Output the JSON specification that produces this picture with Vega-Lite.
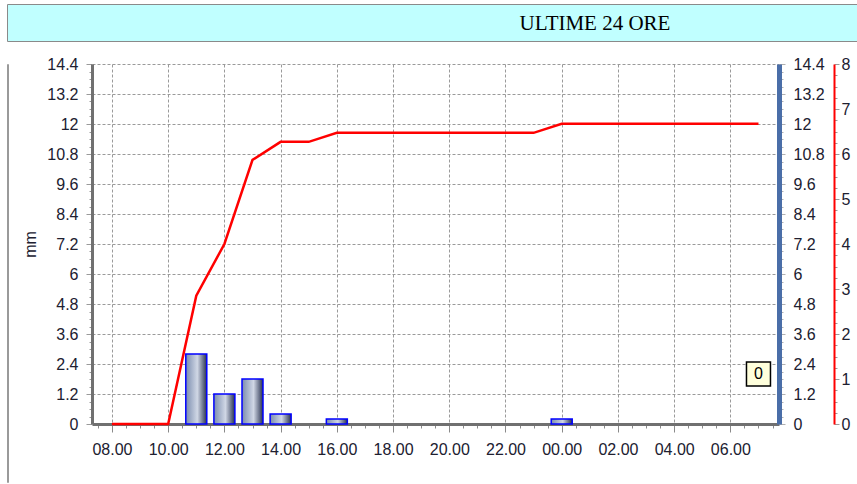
{
  "$schema": "https://vega.github.io/schema/vega-lite/v6.json",
  "padding": {"left": 6, "top": 3, "right": 0, "bottom": 0},
  "background": "white",
  "spacing": 14,
  "config": {
    "font": "Liberation Sans",
    "view": {"stroke": null},
    "axis": {
      "labelFont": "Liberation Sans",
      "labelFontSize": 16,
      "labelColor": "#202030",
      "titleFont": "Liberation Sans",
      "titleFontWeight": "normal",
      "titleColor": "#202030",
      "gridColor": "#9a9a9a",
      "gridDash": [3, 2],
      "gridWidth": 1
    }
  },
  "datasets": {
    "rain": [
      {"hour": 8, "mm": 0, "cum": 0},
      {"hour": 9, "mm": 0, "cum": 0},
      {"hour": 10, "mm": 0, "cum": 0},
      {"hour": 11, "mm": 2.8, "cum": 2.85},
      {"hour": 12, "mm": 1.2, "cum": 4.0},
      {"hour": 13, "mm": 1.8, "cum": 5.87},
      {"hour": 14, "mm": 0.4, "cum": 6.27},
      {"hour": 15, "mm": 0, "cum": 6.27},
      {"hour": 16, "mm": 0.2, "cum": 6.47},
      {"hour": 17, "mm": 0, "cum": 6.47},
      {"hour": 18, "mm": 0, "cum": 6.47},
      {"hour": 19, "mm": 0, "cum": 6.47},
      {"hour": 20, "mm": 0, "cum": 6.47},
      {"hour": 21, "mm": 0, "cum": 6.47},
      {"hour": 22, "mm": 0, "cum": 6.47},
      {"hour": 23, "mm": 0, "cum": 6.47},
      {"hour": 24, "mm": 0.2, "cum": 6.67},
      {"hour": 25, "mm": 0, "cum": 6.67},
      {"hour": 26, "mm": 0, "cum": 6.67},
      {"hour": 27, "mm": 0, "cum": 6.67},
      {"hour": 28, "mm": 0, "cum": 6.67},
      {"hour": 29, "mm": 0, "cum": 6.67},
      {"hour": 30, "mm": 0, "cum": 6.67},
      {"hour": 31, "mm": 0, "cum": 6.67}
    ],
    "box": [{"hour": 31, "v": 2.0, "label": "0"}],
    "band": [{"t": "ULTIME 24 ORE"}],
    "empty": []
  },
  "vconcat": [
    {
      "width": 852,
      "height": 37,
      "view": {"fill": "#c0ffff", "stroke": "#8a8a8a", "strokeWidth": 1},
      "data": {"name": "band"},
      "mark": {"type": "text", "font": "Liberation Serif", "fontSize": 21, "color": "#000000", "dx": 162, "dy": 1.5},
      "encoding": {"text": {"field": "t", "type": "nominal"}}
    },
    {
      "spacing": 13,
      "hconcat": [
        {
          "width": 1,
          "height": 418,
          "view": {"stroke": "#9a9a9a", "strokeWidth": 1},
          "data": {"name": "empty"},
          "mark": {"type": "text"},
          "encoding": {"text": {"field": "t", "type": "nominal"}}
        },
        {
          "width": 687,
          "height": 360,
          "resolve": {"scale": {"y": "independent"}},
          "encoding": {
            "x": {
              "field": "hour", "type": "quantitative",
              "scale": {"domain": [7.29, 31.73], "nice": false, "zero": false, "padding": 0},
              "axis": {
                "title": null,
                "values": [7.5, 8, 8.5, 9, 9.5, 10, 10.5, 11, 11.5, 12, 12.5, 13, 13.5, 14, 14.5, 15, 15.5, 16, 16.5, 17, 17.5, 18, 18.5, 19, 19.5, 20, 20.5, 21, 21.5, 22, 22.5, 23, 23.5, 24, 24.5, 25, 25.5, 26, 26.5, 27, 27.5, 28, 28.5, 29, 29.5, 30, 30.5, 31, 31.5],
                "labelExpr": "datum.value % 2 == 0 ? (((datum.value % 24) < 10 ? '0' : '') + (datum.value % 24) + '.00') : ''",
                "grid": true,
                "gridOpacity": {"condition": {"test": "datum.value % 2 == 0", "value": 1}, "value": 0},
                "tickSize": {"condition": {"test": "datum.value % 2 == 0", "value": 8}, "value": 4},
                "tickColor": "#8a8a8a",
                "domainColor": "#707070",
                "domainWidth": 3,
                "labelPadding": 9,
                "labelFlush": false,
                "labelOverlap": false
              }
            }
          },
          "layer": [
            {
              "data": {"name": "rain"},
              "transform": [{"filter": "datum.mm > 0"}],
              "mark": {
                "type": "bar",
                "size": 21,
                "fill": {
                  "gradient": "linear", "x1": 0, "y1": 0, "x2": 1, "y2": 0,
                  "stops": [
                    {"offset": 0, "color": "#7a8cae"},
                    {"offset": 0.55, "color": "#d0d7e5"},
                    {"offset": 1, "color": "#27314f"}
                  ]
                },
                "stroke": "#0000ff",
                "strokeWidth": 1.5
              },
              "encoding": {
                "y": {
                  "field": "mm", "type": "quantitative",
                  "scale": {"domain": [0, 14.4], "nice": false},
                  "axis": {
                    "title": "mm",
                    "titleFontSize": 16,
                    "titlePadding": 8,
                    "orient": "left",
                    "values": [0, 0.3, 0.6, 0.9, 1.2, 1.5, 1.8, 2.1, 2.4, 2.7, 3, 3.3, 3.6, 3.9, 4.2, 4.5, 4.8, 5.1, 5.4, 5.7, 6, 6.3, 6.6, 6.9, 7.2, 7.5, 7.8, 8.1, 8.4, 8.7, 9, 9.3, 9.6, 9.9, 10.2, 10.5, 10.8, 11.1, 11.4, 11.7, 12, 12.3, 12.6, 12.9, 13.2, 13.5, 13.8, 14.1, 14.4],
                    "labelExpr": "abs(datum.value/1.2 - round(datum.value/1.2)) < 0.01 ? format(datum.value, '~g') : ''",
                    "grid": true,
                    "gridOpacity": {"condition": {"test": "abs(datum.value/1.2 - round(datum.value/1.2)) < 0.01", "value": 1}, "value": 0},
                    "tickSize": {"condition": {"test": "abs(datum.value/1.2 - round(datum.value/1.2)) < 0.01", "value": 6}, "value": 3},
                    "tickColor": "#9a9a9a",
                    "domainColor": "#707070",
                    "domainWidth": 3,
                    "labelPadding": 8,
                    "labelOverlap": false,
                    "labelFlush": false
                  }
                }
              }
            },
            {
              "data": {"name": "rain"},
              "mark": {"type": "line", "color": "#ff0000", "strokeWidth": 2.5},
              "encoding": {
                "y": {
                  "field": "cum", "type": "quantitative",
                  "scale": {"domain": [0, 8], "nice": false},
                  "axis": {
                    "title": null,
                    "orient": "right",
                    "offset": 55,
                    "values": [0, 0.25, 0.5, 0.75, 1, 1.25, 1.5, 1.75, 2, 2.25, 2.5, 2.75, 3, 3.25, 3.5, 3.75, 4, 4.25, 4.5, 4.75, 5, 5.25, 5.5, 5.75, 6, 6.25, 6.5, 6.75, 7, 7.25, 7.5, 7.75, 8],
                    "labelExpr": "datum.value % 1 == 0 ? format(datum.value, 'd') : ''",
                    "grid": false,
                    "tickSize": {"condition": {"test": "datum.value % 1 == 0", "value": 5}, "value": 3},
                    "tickColor": "#9a9a9a",
                    "domainColor": "#ff0000",
                    "domainWidth": 2,
                    "labelPadding": 2,
                    "labelOverlap": false,
                    "labelFlush": false
                  }
                }
              }
            },
            {
              "data": {"name": "box"},
              "encoding": {
                "y": {
                  "field": "v", "type": "quantitative",
                  "scale": {"domain": [0, 14.4], "nice": false},
                  "axis": {
                    "title": null,
                    "orient": "right",
                    "offset": 0,
                    "values": [0, 0.3, 0.6, 0.9, 1.2, 1.5, 1.8, 2.1, 2.4, 2.7, 3, 3.3, 3.6, 3.9, 4.2, 4.5, 4.8, 5.1, 5.4, 5.7, 6, 6.3, 6.6, 6.9, 7.2, 7.5, 7.8, 8.1, 8.4, 8.7, 9, 9.3, 9.6, 9.9, 10.2, 10.5, 10.8, 11.1, 11.4, 11.7, 12, 12.3, 12.6, 12.9, 13.2, 13.5, 13.8, 14.1, 14.4],
                    "labelExpr": "abs(datum.value/1.2 - round(datum.value/1.2)) < 0.01 ? format(datum.value, '~g') : ''",
                    "grid": false,
                    "tickSize": {"condition": {"test": "abs(datum.value/1.2 - round(datum.value/1.2)) < 0.01", "value": 6}, "value": 4},
                    "tickColor": "#b0b0b0",
                    "domainColor": "#4a6ea8",
                    "domainWidth": 5,
                    "labelPadding": 8,
                    "labelOverlap": false,
                    "labelFlush": false
                  }
                }
              },
              "layer": [
                {
                  "mark": {"type": "point", "shape": "square", "size": 576, "filled": true, "fill": "#ffffdc", "stroke": "#000000", "strokeWidth": 1.5, "opacity": 1}
                },
                {
                  "mark": {"type": "text", "font": "Liberation Sans", "fontSize": 16, "color": "#000000"},
                  "encoding": {"text": {"field": "label", "type": "nominal"}}
                }
              ]
            }
          ]
        }
      ]
    }
  ]
}
